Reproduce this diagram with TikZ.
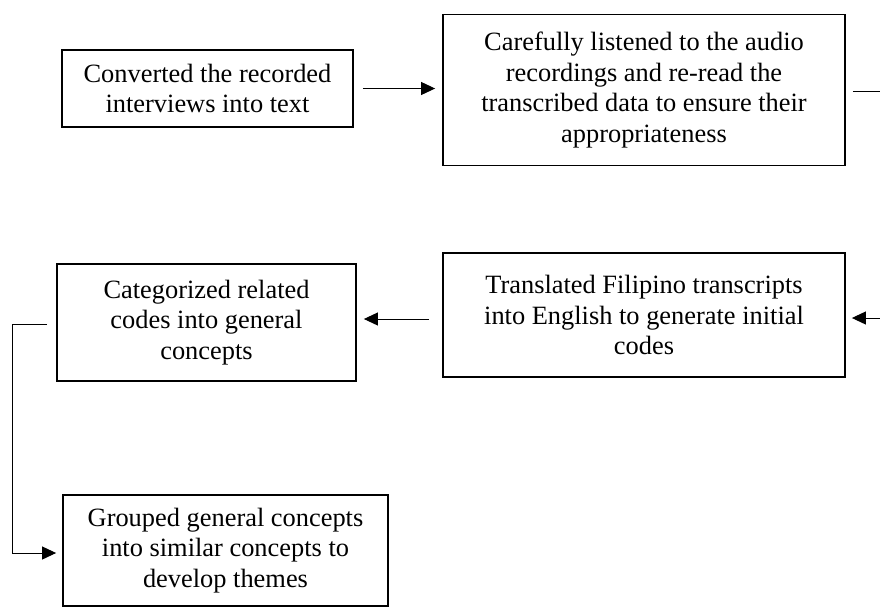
\documentclass[tikz,border=0pt]{standalone}
\usepackage{fontspec}
\setmainfont{Liberation Serif}
\usetikzlibrary{arrows.meta}
\begin{document}
\begin{tikzpicture}[x=1pt,y=-1pt,
  stepbox/.style={draw=black, line width=1.8pt, inner sep=0pt, align=center,
    font=\fontsize{26.4}{30.4}\selectfont},
  conn/.style={draw=black, line width=1pt},
  arrowc/.style={conn, -{Triangle[length=14pt,width=13pt]}}]
\fill[white] (0,0) rectangle (880,608);
\useasboundingbox (0,0) rectangle (880,608);
\node[stepbox, minimum width=291pt, minimum height=77pt] (b1) at (207.5,88.5)
  {Converted the recorded\\interviews into text};
\node[stepbox, minimum width=402pt, minimum height=151pt] (b2) at (644,90)
  {Carefully listened to the audio\\recordings and re-read the\\transcribed data to ensure their\\appropriateness};
\node[stepbox, minimum width=402pt, minimum height=124pt] (b3) at (644,315)
  {Translated Filipino transcripts\\into English to generate initial\\codes};
\node[stepbox, minimum width=299pt, minimum height=117pt] (b4) at (206.5,322.5)
  {Categorized related\\codes into general\\concepts};
\node[stepbox, minimum width=325pt, minimum height=111pt] (b5) at (225.5,550.5)
  {Grouped general concepts\\into similar concepts to\\develop themes};
\coordinate (r1) at (880,91);
\coordinate (r2) at (880,318);
\coordinate (m3) at ([yshift=-4pt]b3.west);
\coordinate (m4) at ([yshift=-1.5pt]b4.west);
\coordinate (e1) at (12,553);
\draw[arrowc, shorten <=9pt, shorten >=7pt] (b1.east) -- (b1.east -| b2.west);
\draw[conn, shorten <=7pt] (r1 -| b2.east) -- (r1);
\draw[arrowc, shorten >=6pt] (r2) -- (r2 -| b3.east);
\draw[arrowc, shorten <=13pt, shorten >=7pt] (m3) -- (m3 -| b4.east);
\draw[arrowc, shorten <=9pt, shorten >=6pt] (m4) -- (m4 -| e1) -- (e1) -- (e1 -| b5.west);
\end{tikzpicture}
\end{document}
